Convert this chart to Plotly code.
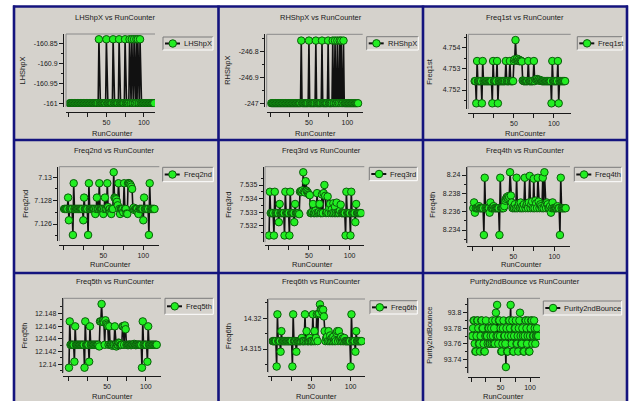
import plotly.graph_objects as go

W, H = 632, 401
FONT = "Liberation Sans, Arial, sans-serif"
PANEL_BG = "#d5d2cc"
NAVY = "#14147e"
TXT = "#1a1a1a"
FS = 7.5
TICK_FS = 7

run_counter = [
    1, 2, 3, 4, 5, 6, 7, 8, 9, 10,
    11, 12, 13, 14, 15, 16, 17, 18, 19, 20,
    21, 22, 23, 24, 25, 26, 27, 28, 29, 30,
    31, 32, 33, 34, 35, 36, 37, 38, 39, 40,
    41, 42, 43, 44, 45, 46, 47, 48, 49, 50,
    51, 52, 53, 54, 55, 56, 57, 58, 59, 60,
    61, 62, 63, 64, 65, 66, 67, 68, 69, 70,
    71, 72, 73, 74, 75, 76, 77, 78, 79, 80,
    81, 82, 83, 84, 85, 86, 87, 88, 89, 90,
    91, 92, 93, 94, 95, 96, 97, 98, 99, 100,
    101, 102, 103, 104, 105, 106, 107, 108, 109, 110,
    111, 112, 113, 114,
]

lhshpx = [
    -161.0, -161.0, -161.0, -161.0, -161.0, -161.0, -161.0, -161.0, -161.0, -161.0,
    -161.0, -161.0, -161.0, -161.0, -161.0, -161.0, -161.0, -161.0, -161.0, -161.0,
    -161.0, -161.0, -161.0, -161.0, -161.0, -161.0, -161.0, -161.0, -161.0, -161.0,
    -161.0, -161.0, -161.0, -161.0, -161.0, -161.0, -161.0, -161.0, -161.0, -160.84,
    -161.0, -161.0, -161.0, -161.0, -161.0, -161.0, -161.0, -161.0, -161.0, -160.84,
    -161.0, -161.0, -161.0, -161.0, -161.0, -161.0, -161.0, -161.0, -160.84, -161.0,
    -161.0, -161.0, -161.0, -161.0, -161.0, -161.0, -160.84, -161.0, -161.0, -161.0,
    -161.0, -161.0, -161.0, -161.0, -160.84, -161.0, -161.0, -161.0, -161.0, -161.0,
    -160.84, -161.0, -161.0, -160.84, -161.0, -161.0, -160.84, -161.0, -161.0, -160.84,
    -161.0, -160.84, -161.0, -161.0, -160.84, -161.0, -161.0, -161.0, -161.0, -161.0,
    -161.0, -161.0, -161.0, -161.0, -161.0, -161.0, -161.0, -161.0, -161.0, -161.0,
    -161.0, -161.0, -161.0, -161.0,
]

rhshpx = [
    -247.0, -247.0, -247.0, -247.0, -247.0, -247.0, -247.0, -247.0, -247.0, -247.0,
    -247.0, -247.0, -247.0, -247.0, -247.0, -247.0, -247.0, -247.0, -247.0, -247.0,
    -247.0, -247.0, -247.0, -247.0, -247.0, -247.0, -247.0, -247.0, -247.0, -247.0,
    -247.0, -247.0, -247.0, -247.0, -247.0, -247.0, -247.0, -247.0, -247.0, -246.757,
    -247.0, -247.0, -247.0, -247.0, -247.0, -247.0, -247.0, -247.0, -247.0, -246.757,
    -247.0, -247.0, -247.0, -247.0, -247.0, -247.0, -247.0, -247.0, -246.757, -247.0,
    -247.0, -247.0, -247.0, -247.0, -247.0, -247.0, -246.757, -247.0, -247.0, -247.0,
    -247.0, -247.0, -247.0, -247.0, -246.757, -247.0, -247.0, -247.0, -247.0, -247.0,
    -246.757, -247.0, -247.0, -246.757, -247.0, -247.0, -246.757, -247.0, -247.0, -246.757,
    -247.0, -246.757, -247.0, -247.0, -246.757, -247.0, -247.0, -247.0, -247.0, -247.0,
    -247.0, -247.0, -247.0, -247.0, -247.0, -247.0, -247.0, -247.0, -247.0, -247.0,
    -247.0, -247.0, -247.0, -247.0,
]

freq1st = [
    4.75242, 4.75242, 4.75137, 4.75337, 4.75242, 4.75242, 4.75242, 4.75242, 4.75242, 4.75137,
    4.75337, 4.75242, 4.75242, 4.75242, 4.75242, 4.75242, 4.75242, 4.75242, 4.75242, 4.75242,
    4.75242, 4.75242, 4.75137, 4.75337, 4.75242, 4.75242, 4.75242, 4.75242, 4.75337, 4.75137,
    4.75242, 4.75242, 4.75242, 4.75242, 4.75242, 4.75242, 4.75242, 4.75242, 4.75242, 4.75337,
    4.75242, 4.75242, 4.75242, 4.75242, 4.75337, 4.75242, 4.75242, 4.75242, 4.75242, 4.75337,
    4.75345, 4.75436, 4.75342, 4.75348, 4.75338, 4.75344, 4.75336, 4.75340, 4.75338, 4.75335,
    4.75245, 4.75242, 4.75242, 4.75242, 4.75242, 4.75242, 4.75242, 4.75337, 4.75242, 4.75242,
    4.75242, 4.75242, 4.75242, 4.75242, 4.75337, 4.75242, 4.75250, 4.75248, 4.75252, 4.75246,
    4.75249, 4.75244, 4.75247, 4.75243, 4.75242, 4.75242, 4.75242, 4.75242, 4.75242, 4.75242,
    4.75242, 4.75242, 4.75242, 4.75242, 4.75242, 4.75242, 4.75137, 4.75337, 4.75242, 4.75242,
    4.75242, 4.75242, 4.75242, 4.75242, 4.75337, 4.75137, 4.75242, 4.75242, 4.75242, 4.75242,
    4.75242, 4.75242, 4.75242, 4.75242,
]

freq2nd = [
    7.12729, 7.12729, 7.12729, 7.12729, 7.12729, 7.12826, 7.12632, 7.12729, 7.12729, 7.12729,
    7.12729, 7.12506, 7.12949, 7.12729, 7.12729, 7.12729, 7.12729, 7.12729, 7.12729, 7.12729,
    7.12729, 7.12729, 7.12729, 7.12729, 7.12632, 7.12826, 7.12729, 7.12729, 7.12729, 7.12729,
    7.12506, 7.12949, 7.12729, 7.12729, 7.12729, 7.12729, 7.12729, 7.12729, 7.12729, 7.12686,
    7.12729, 7.12826, 7.12729, 7.12729, 7.12949, 7.12729, 7.12729, 7.12729, 7.12729, 7.12686,
    7.12729, 7.12826, 7.12729, 7.12729, 7.12949, 7.12745, 7.12720, 7.12729, 7.12700, 7.12686,
    7.12729, 7.12729, 7.13043, 7.12826, 7.12820, 7.12812, 7.12790, 7.12760, 7.12949, 7.12729,
    7.12686, 7.12729, 7.12729, 7.12729, 7.12700, 7.12949, 7.12729, 7.12729, 7.12690, 7.12686,
    7.12949, 7.12950, 7.12945, 7.12935, 7.12920, 7.12900, 7.12729, 7.12740, 7.12720, 7.12729,
    7.12729, 7.12729, 7.12700, 7.12686, 7.12729, 7.12729, 7.12729, 7.12729, 7.12729, 7.12632,
    7.12826, 7.12729, 7.12729, 7.12729, 7.12729, 7.12729, 7.12506, 7.12949, 7.12729, 7.12729,
    7.12729, 7.12729, 7.12729, 7.12729,
]

freq3rd = [
    7.53128, 7.53450, 7.53293, 7.53293, 7.53293, 7.53293, 7.53128, 7.53450, 7.53293, 7.53293,
    7.53293, 7.53293, 7.53226, 7.53360, 7.53293, 7.53293, 7.53293, 7.53293, 7.53293, 7.53128,
    7.53450, 7.53293, 7.53293, 7.53293, 7.53293, 7.53128, 7.53450, 7.53293, 7.53293, 7.53293,
    7.53293, 7.53226, 7.53360, 7.53293, 7.53293, 7.53293, 7.53293, 7.53285, 7.53450, 7.53455,
    7.53448, 7.53460, 7.53594, 7.53452, 7.53445, 7.53528, 7.53458, 7.53450, 7.53440, 7.53430,
    7.53425, 7.53293, 7.53293, 7.53300, 7.53360, 7.53293, 7.53293, 7.53310, 7.53293, 7.53440,
    7.53293, 7.53300, 7.53360, 7.53293, 7.53293, 7.53430, 7.53293, 7.53440, 7.53500, 7.53420,
    7.53293, 7.53300, 7.53415, 7.53293, 7.53330, 7.53360, 7.53293, 7.53320, 7.53293, 7.53365,
    7.53293, 7.53340, 7.53293, 7.53370, 7.53293, 7.53300, 7.53293, 7.53310, 7.53355, 7.53293,
    7.53293, 7.53293, 7.53293, 7.53293, 7.53128, 7.53450, 7.53293, 7.53293, 7.53293, 7.53293,
    7.53128, 7.53450, 7.53293, 7.53293, 7.53293, 7.53293, 7.53226, 7.53360, 7.53293, 7.53293,
    7.53293, 7.53293, 7.53293, 7.53293,
]

freq4th = [
    8.23638, 8.23701, 8.23589, 8.23638, 8.23638, 8.23638, 8.23638, 8.23660, 8.23638, 8.23638,
    8.23638, 8.23638, 8.23638, 8.23345, 8.23970, 8.23638, 8.23638, 8.23638, 8.23638, 8.23638,
    8.23589, 8.23701, 8.23638, 8.23638, 8.23638, 8.23660, 8.23638, 8.23638, 8.23638, 8.23638,
    8.23638, 8.23638, 8.23345, 8.23970, 8.23638, 8.23638, 8.23638, 8.23638, 8.23660, 8.23720,
    8.23740, 8.23760, 8.23750, 8.23770, 8.23760, 8.24030, 8.23775, 8.23700, 8.23638, 8.23650,
    8.23638, 8.23680, 8.23638, 8.23970, 8.23638, 8.23660, 8.23690, 8.23638, 8.23700, 8.23638,
    8.23660, 8.23638, 8.23680, 8.23970, 8.23638, 8.23670, 8.23690, 8.23638, 8.23700, 8.23990,
    8.23638, 8.23680, 8.23710, 8.23638, 8.23960, 8.23638, 8.23720, 8.23690, 8.23638, 8.23970,
    8.23710, 8.23638, 8.23680, 8.23660, 8.23638, 8.23970, 8.23638, 8.24030, 8.23670, 8.23638,
    8.23700, 8.23680, 8.23638, 8.23638, 8.23660, 8.23589, 8.23638, 8.23701, 8.23638, 8.23638,
    8.23638, 8.23638, 8.23638, 8.23660, 8.23638, 8.23638, 8.23345, 8.23970, 8.23638, 8.23638,
    8.23638, 8.23638, 8.23638, 8.23638,
]

freq5th = [
    12.13947, 12.14673, 12.14306, 12.14306, 12.14306, 12.14306, 12.14306, 12.14041, 12.14595, 12.14306,
    12.14306, 12.14306, 12.14306, 12.14306, 12.14306, 12.14306, 12.14306, 12.14306, 12.14306, 12.14306,
    12.13947, 12.14673, 12.14306, 12.14306, 12.14306, 12.14306, 12.14041, 12.14595, 12.14306, 12.14306,
    12.14306, 12.14306, 12.14306, 12.14306, 12.14306, 12.14306, 12.14306, 12.14306, 12.14306, 12.14280,
    12.14673, 12.14670, 12.14945, 12.14665, 12.14680, 12.14660, 12.14306, 12.14690, 12.14640, 12.14620,
    12.14600, 12.14306, 12.14595, 12.14306, 12.14310, 12.14306, 12.14290, 12.14306, 12.14306, 12.14595,
    12.14306, 12.14280, 12.14306, 12.14306, 12.14340, 12.14330, 12.14300, 12.14306, 12.14306, 12.14595,
    12.14600, 12.14306, 12.14610, 12.14550, 12.14306, 12.14306, 12.14300, 12.14306, 12.14310, 12.14306,
    12.14300, 12.14306, 12.14310, 12.14306, 12.14320, 12.14306, 12.14300, 12.14306, 12.14306, 12.14310,
    12.14306, 12.14306, 12.14306, 12.14306, 12.13947, 12.14673, 12.14306, 12.14306, 12.14306, 12.14306,
    12.14306, 12.14041, 12.14595, 12.14306, 12.14306, 12.14306, 12.14306, 12.14306, 12.14306, 12.14306,
    12.14306, 12.14306, 12.14306, 12.14306,
]

freq6th = [
    14.31628, 14.31628, 14.31628, 14.31628, 14.31628, 14.31215, 14.32064, 14.31628, 14.31628, 14.31628,
    14.31456, 14.31791, 14.31628, 14.31628, 14.31628, 14.31628, 14.31628, 14.31628, 14.31628, 14.31628,
    14.31628, 14.31628, 14.31628, 14.31628, 14.31628, 14.31215, 14.32064, 14.31628, 14.31628, 14.31628,
    14.31456, 14.31628, 14.31628, 14.31628, 14.31628, 14.31628, 14.31628, 14.31680, 14.31628, 14.31628,
    14.31628, 14.32064, 14.31628, 14.31791, 14.31628, 14.31628, 14.31628, 14.31680, 14.31628, 14.31628,
    14.31628, 14.32064, 14.31628, 14.31791, 14.31628, 14.31680, 14.32064, 14.31628, 14.32070, 14.32080,
    14.32227, 14.32150, 14.32140, 14.32100, 14.32140, 14.32030, 14.31791, 14.31628, 14.31680, 14.31700,
    14.31628, 14.31791, 14.31628, 14.31720, 14.31628, 14.31680, 14.31628, 14.31700, 14.31628, 14.31660,
    14.31628, 14.31760, 14.31791, 14.31628, 14.31790, 14.31660, 14.31628, 14.31700, 14.31628, 14.31670,
    14.31628, 14.31680, 14.31628, 14.31628, 14.31628, 14.31628, 14.31628, 14.31628, 14.31628, 14.31215,
    14.32064, 14.31628, 14.31628, 14.31628, 14.31628, 14.31456, 14.31791, 14.31628, 14.31628, 14.31628,
    14.31628, 14.31628, 14.31628, 14.31628,
]

purity2ndbounce = [
    93.77, 93.77, 93.78, 93.79, 93.79, 93.76, 93.75, 93.75, 93.77, 93.79,
    93.79, 93.78, 93.76, 93.76, 93.75, 93.77, 93.79, 93.79, 93.78, 93.78,
    93.76, 93.75, 93.75, 93.77, 93.79, 93.77, 93.77, 93.76, 93.78, 93.78,
    93.76, 93.76, 93.77, 93.78, 93.76, 93.79, 93.77, 93.76, 93.78, 93.76,
    93.79, 93.80, 93.77, 93.81, 93.77, 93.76, 93.79, 93.79, 93.77, 93.78,
    93.75, 93.75, 93.76, 93.78, 93.79, 93.77, 93.77, 93.76, 93.73, 93.78,
    93.75, 93.75, 93.77, 93.79, 93.79, 93.78, 93.81, 93.77, 93.76, 93.79,
    93.75, 93.75, 93.77, 93.78, 93.78, 93.79, 93.76, 93.76, 93.77, 93.75,
    93.78, 93.79, 93.80, 93.77, 93.76, 93.76, 93.78, 93.77, 93.75, 93.75,
    93.77, 93.79, 93.79, 93.78, 93.76, 93.77, 93.79, 93.75, 93.75, 93.77,
    93.78, 93.79, 93.79, 93.76, 93.77, 93.77, 93.79, 93.78, 93.76, 93.77,
    93.77, 93.78, 93.77, 93.77,
]

x_tickvals = [0, 25, 50, 75, 100]
x_ticktext = ["", "", "50", "", "100"]

panels = [
    dict(label="LHShpX", values=lhshpx, plot=(66, 155, 34, 107), yline=63, xline=112,
         xr=[-4, 115], yr=[-161.0093, -160.8268],
         yt=[-161, -160.95, -160.9, -160.85], ytt=["-161", "-160.95", "-160.9", "-160.85"],
         ym=[-160.975, -160.925, -160.875],
         title=(115, 17), leg=(163, 213, 37, 50), ylab=22, xlab=(112, 133)),
    dict(label="RHShpX", values=rhshpx, plot=(266.7, 362.7, 34.3, 107.3), yline=264, xline=112,
         xr=[-5, 120], yr=[-247.0155, -246.7326],
         yt=[-247, -246.9, -246.8], ytt=["-247", "-246.9", "-246.8"],
         ym=[-246.95, -246.85, -246.75],
         title=(321, 17), leg=(366.7, 418.3, 36.7, 50), ylab=228, xlab=(315, 133)),
    dict(label="Freq1st", values=freq1st, plot=(468.3, 570.7, 34.3, 109), yline=465.7, xline=113,
         xr=[-7, 121], yr=[4.751102, 4.754634],
         yt=[4.752, 4.753, 4.754], ytt=["4.752", "4.753", "4.754"],
         ym=[4.7515, 4.7525, 4.7535, 4.7545],
         title=(525, 17), leg=(577.3, 622.3, 36.7, 50), ylab=430, xlab=(525, 133)),
    dict(label="Freq2nd", values=freq2nd, plot=(59.3, 159.3, 166.7, 241), yline=57.3, xline=245,
         xr=[-5, 120], yr=[7.124544, 7.130908],
         yt=[7.126, 7.128, 7.13], ytt=["7.126", "7.128", "7.13"],
         ym=[7.125, 7.127, 7.129],
         title=(114, 150.7), leg=(162.7, 213.3, 167.3, 181.7), ylab=26, xlab=(110, 264)),
    dict(label="Freq3rd", values=freq3rd, plot=(265, 364.3, 166.7, 242.3), yline=262.7, xline=245,
         xr=[-4, 118], yr=[7.530776, 7.536349],
         yt=[7.532, 7.533, 7.534, 7.535], ytt=["7.532", "7.533", "7.534", "7.535"],
         ym=[7.5315, 7.5325, 7.5335, 7.5345, 7.5355],
         title=(321, 150.7), leg=(369.3, 417.3, 167.3, 180.7), ylab=228.3, xlab=(312, 264)),
    dict(label="Freq4th", values=freq4th, plot=(467.3, 570, 166.7, 243.3), yline=465.7, xline=246,
         xr=[-6.3, 119.3], yr=[8.232549, 8.240905],
         yt=[8.234, 8.236, 8.238, 8.24], ytt=["8.234", "8.236", "8.238", "8.24"],
         ym=[8.233, 8.235, 8.237, 8.239],
         title=(525, 150.7), leg=(574.3, 621.7, 167.3, 181.7), ylab=431.7, xlab=(521.7, 264)),
    dict(label="Freq5th", values=freq5th, plot=(63.3, 161, 298.3, 372.7), yline=61.7, xline=376,
         xr=[-6.3, 119.5], yr=[12.138682, 12.150353],
         yt=[12.14, 12.142, 12.144, 12.146, 12.148],
         ytt=["12.14", "12.142", "12.144", "12.146", "12.148"],
         ym=[12.139, 12.141, 12.143, 12.145, 12.147, 12.149],
         title=(115, 281.7), leg=(165, 213.3, 298.3, 314.3), ylab=24, xlab=(112, 396)),
    dict(label="Freq6th", values=freq6th, plot=(268.3, 365, 299, 372.3), yline=266.7, xline=376,
         xr=[-4.6, 118.2], yr=[14.311205, 14.323143],
         yt=[14.315, 14.32], ytt=["14.315", "14.32"],
         ym=[14.3125, 14.3175, 14.3225],
         title=(321, 281.7), leg=(370, 417.3, 300.7, 314), ylab=228.3, xlab=(316.7, 396)),
    dict(label="Purity2ndBounce", values=purity2ndbounce, plot=(468.3, 540, 298.3, 373.3), yline=466.7, xline=377,
         xr=[-5, 117], yr=[93.72198, 93.81854],
         yt=[93.74, 93.76, 93.78, 93.8], ytt=["93.74", "93.76", "93.78", "93.8"],
         ym=[93.73, 93.75, 93.77, 93.79, 93.81],
         title=(525, 281.7), leg=(543.3, 621.7, 301, 315), ylab=430, xlab=(503.3, 396)),
]


def fx(p):
    return p / W


def fy(p):
    return 1 - p / H


fig = go.Figure()
shapes = []
annotations = []
axes = {}

# gray panel area
shapes.append(dict(type="rect", xref="paper", yref="paper", x0=fx(13), x1=fx(628), y0=fy(401), y1=fy(6),
                   fillcolor=PANEL_BG, line=dict(width=0), layer="below"))

for i, p in enumerate(panels, start=1):
    sfx = "" if i == 1 else str(i)
    x0, x1, y0, y1 = p["plot"]
    fig.add_trace(go.Scatter(
        x=run_counter, y=p["values"], xaxis="x" + sfx, yaxis="y" + sfx,
        mode="lines+markers", name=p["label"], showlegend=False,
        line=dict(color="#111111", width=1.6),
        marker=dict(size=7.5, color="#22ee22", line=dict(color="#0b5d0b", width=1)),
    ))
    axes["xaxis" + sfx] = dict(
        domain=[fx(x0), fx(x1)], range=p["xr"], anchor="free", position=fy(p["xline"]),
        showline=True, linecolor=TXT, linewidth=1, ticks="outside", ticklen=4, tickcolor=TXT,
        tickmode="array", tickvals=x_tickvals, ticktext=x_ticktext,
        showgrid=False, zeroline=False, tickfont=dict(family=FONT, size=TICK_FS, color=TXT),
    )
    axes["yaxis" + sfx] = dict(
        domain=[fy(y1), fy(y0)], range=p["yr"], anchor="free", position=fx(p["yline"]),
        showline=True, linecolor=TXT, linewidth=1, ticks="outside", ticklen=4, tickcolor=TXT,
        tickmode="array", tickvals=p["yt"], ticktext=p["ytt"],
        minor=dict(tickmode="array", tickvals=p["ym"], ticks="outside", ticklen=2, tickcolor=TXT, showgrid=False),
        showgrid=False, zeroline=False, tickfont=dict(family=FONT, size=TICK_FS, color=TXT),
    )
    # plot area frame (top/left darker)
    shapes.append(dict(type="line", xref="paper", yref="paper", x0=fx(x0), x1=fx(x1), y0=fy(y0), y1=fy(y0),
                       line=dict(color="#8a8a8a", width=1)))
    shapes.append(dict(type="line", xref="paper", yref="paper", x0=fx(x0), x1=fx(x0), y0=fy(y0), y1=fy(y1),
                       line=dict(color="#8a8a8a", width=1)))
    # title
    tx, ty = p["title"]
    annotations.append(dict(text=p["label"] + " vs RunCounter", x=fx(tx), y=fy(ty), xref="paper", yref="paper",
                            showarrow=False, xanchor="center", yanchor="middle",
                            font=dict(family=FONT, size=FS, color=TXT)))
    # axis titles
    annotations.append(dict(text=p["label"], x=fx(p["ylab"]), y=fy((y0 + y1) / 2), xref="paper", yref="paper",
                            showarrow=False, textangle=-90, xanchor="center", yanchor="middle",
                            font=dict(family=FONT, size=FS, color=TXT)))
    lx, ly = p["xlab"]
    annotations.append(dict(text="RunCounter", x=fx(lx), y=fy(ly), xref="paper", yref="paper",
                            showarrow=False, xanchor="center", yanchor="middle",
                            font=dict(family=FONT, size=FS, color=TXT)))
    # legend box
    a0, a1, b0, b1 = p["leg"]
    cy = (b0 + b1) / 2
    shapes.append(dict(type="rect", xref="paper", yref="paper", x0=fx(a0), x1=fx(a1), y0=fy(b1), y1=fy(b0),
                       fillcolor=PANEL_BG, line=dict(width=0)))
    shapes.append(dict(type="line", xref="paper", yref="paper", x0=fx(a0), x1=fx(a1), y0=fy(b0), y1=fy(b0),
                       line=dict(color="#7a7a7a", width=1)))
    shapes.append(dict(type="line", xref="paper", yref="paper", x0=fx(a0), x1=fx(a0), y0=fy(b0), y1=fy(b1),
                       line=dict(color="#7a7a7a", width=1)))
    shapes.append(dict(type="line", xref="paper", yref="paper", x0=fx(a0), x1=fx(a1), y0=fy(b1), y1=fy(b1),
                       line=dict(color="#ffffff", width=1)))
    shapes.append(dict(type="line", xref="paper", yref="paper", x0=fx(a1), x1=fx(a1), y0=fy(b0), y1=fy(b1),
                       line=dict(color="#ffffff", width=1)))
    shapes.append(dict(type="line", xref="paper", yref="paper", x0=fx(a0 + 2), x1=fx(a0 + 17), y0=fy(cy), y1=fy(cy),
                       line=dict(color="#111111", width=2)))
    shapes.append(dict(type="circle", xref="paper", yref="paper", x0=fx(a0 + 6), x1=fx(a0 + 13.5),
                       y0=fy(cy + 3.75), y1=fy(cy - 3.75),
                       fillcolor="#22ee22", line=dict(color="#0b5d0b", width=1)))
    annotations.append(dict(text=p["label"], x=fx(a0 + 19), y=fy(cy), xref="paper", yref="paper",
                            showarrow=False, xanchor="left", yanchor="middle",
                            font=dict(family=FONT, size=FS, color=TXT)))

# navy frame lines
for xv in (14, 218.5, 423, 627):
    shapes.append(dict(type="line", xref="paper", yref="paper", x0=fx(xv), x1=fx(xv), y0=fy(405), y1=fy(5.5),
                       line=dict(color=NAVY, width=2.6)))
for yv in (6.5, 140, 273):
    shapes.append(dict(type="line", xref="paper", yref="paper", x0=fx(13), x1=fx(628), y0=fy(yv), y1=fy(yv),
                       line=dict(color=NAVY, width=2.6)))

fig.update_layout(
    width=W, height=H, autosize=False,
    margin=dict(l=0, r=0, t=0, b=0, pad=0),
    paper_bgcolor="#ffffff", plot_bgcolor="#ffffff",
    showlegend=False,
    shapes=shapes, annotations=annotations,
    font=dict(family=FONT, size=FS, color=TXT),
    **axes,
)

fig.write_html("out.html", config={"displayModeBar": False},
               post_script="document.body.style.margin='0px';")
